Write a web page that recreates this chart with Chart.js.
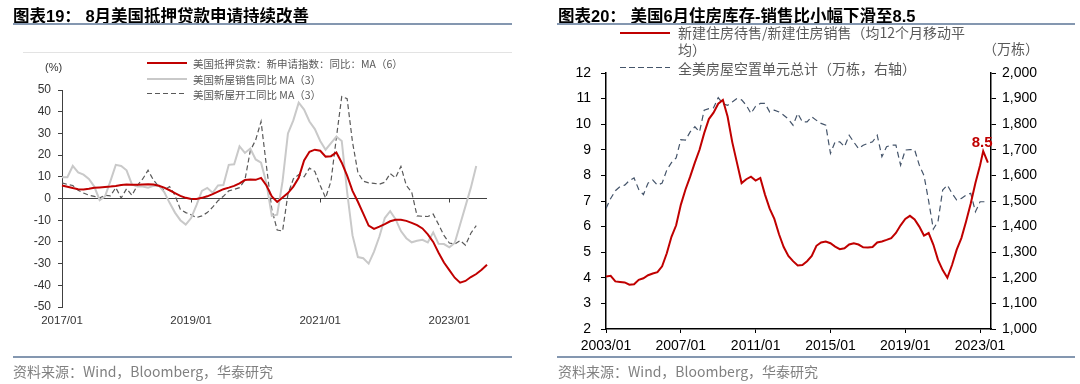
<!DOCTYPE html>
<html>
<head>
<meta charset="utf-8">
<script src="https://cdn.jsdelivr.net/npm/chart.js@4.4.0/dist/chart.umd.min.js"></script>
<style>
  body { margin: 0; width: 1080px; height: 384px; background: #fff; position: relative; overflow: hidden;
         font-family: "Liberation Sans", Arial, "Noto Sans CJK SC", sans-serif; }
  .abs { position: absolute; }
  .title { font-family: "Liberation Sans", "Noto Sans CJK SC", sans-serif; font-weight: bold; font-size: 16.5px; color: #000; white-space: nowrap; }
  .rule { height: 2px; background: #8497b0; }
  .thin { height: 1px; background: #e3e3e3; }
  .src { font-family: "Noto Sans CJK SC", sans-serif; font-size: 14px; color: #808080; white-space: nowrap; }
  .lg { font-family: "Noto Sans CJK SC", sans-serif; color: #595959; white-space: nowrap; }
  .chart { position: absolute; top: 0; width: 540px; height: 384px; }
</style>
</head>
<body>
<div class="chart" style="left:0"><canvas id="c1"></canvas></div>
<div class="chart" style="left:540px"><canvas id="c2"></canvas></div>

<div class="abs title" style="left:13px;top:3px">图表19：&nbsp;8月美国抵押贷款申请持续改善</div>
<div class="abs rule" style="left:13px;top:23px;width:499px"></div>
<div class="abs thin" style="left:23px;top:52px;width:489px"></div>
<div class="abs" style="left:45px;top:61px;font-size:11px;color:#333">(%)</div>
<div class="abs" style="left:147px;top:62px;width:40px;height:2px;background:#c00000"></div>
<div class="abs lg" style="left:193px;top:56px;font-size:10.5px">美国抵押贷款：新申请指数：同比：MA（6）</div>
<div class="abs" style="left:147px;top:78px;width:40px;height:2px;background:#c9c9c9"></div>
<div class="abs lg" style="left:193px;top:72px;font-size:10.5px">美国新屋销售同比 MA（3）</div>
<div class="abs" style="left:147px;top:93px;width:40px;height:1px;background:repeating-linear-gradient(to right,#595959 0 5px,transparent 5px 8px)"></div>
<div class="abs lg" style="left:193px;top:87px;font-size:10.5px">美国新屋开工同比 MA（3）</div>
<div class="abs rule" style="left:13px;top:356px;width:499px"></div>
<div class="abs src" style="left:13px;top:361px">资料来源：Wind，Bloomberg，华泰研究</div>

<div class="abs title" style="left:558px;top:3px">图表20：&nbsp;美国6月住房库存-销售比小幅下滑至8.5</div>
<div class="abs rule" style="left:557px;top:23px;width:518px"></div>
<div class="abs" style="left:620px;top:32px;width:50px;height:2px;background:#c00000"></div>
<div class="abs lg" style="left:678px;top:24px;font-size:14px;line-height:17px">新建住房待售/新建住房销售（均12个月移动平<br>均）</div>
<div class="abs lg" style="left:983px;top:38px;font-size:14px">（万栋）</div>
<div class="abs" style="left:620px;top:67px;width:50px;height:1px;background:repeating-linear-gradient(to right,#44546a 0 6px,transparent 6px 9px)"></div>
<div class="abs lg" style="left:678px;top:58px;font-size:14px">全美房屋空置单元总计（万栋，右轴）</div>
<div class="abs rule" style="left:557px;top:356px;width:518px"></div>
<div class="abs src" style="left:558px;top:361px">资料来源：Wind，Bloomberg，华泰研究</div>

<script>
// ---- 图表19 data (monthly, 2017/01 - 2023/08) ----
var leftMonths = [];
for (var y = 2017; y <= 2023; y++) {
	for (var m = 1; m <= 12; m++) {
		if (y === 2023 && m > 8) break;
		leftMonths.push(y + '/' + (m < 10 ? '0' + m : m));
	}
}
var mortgageYoY = [
	6.0, 5.4, 4.8, 4.3, 4.2, 4.5, 4.9, 5.1, 5.3, 5.5,
	5.8, 6.2, 6.5, 6.3, 6.3, 6.5, 6.6, 6.4, 5.9, 5.0,
	3.8, 2.5, 1.2, 0.3, -0.2, -0.2, 0.3, 1.0, 2.0, 3.2,
	4.3, 5.0, 5.8, 7.0, 8.5, 8.7, 8.6, 9.5, 6.0, 1.0,
	-1.6, 0.5, 2.5, 5.5, 9.5, 17.5, 21.5, 22.5, 22.0, 19.3,
	19.5, 21.2, 16.5, 10.5, 3.5, -1.5, -7.0, -12.5, -14.0, -13.0,
	-11.8, -10.5, -9.8, -9.8, -10.3, -11.2, -12.3, -13.8, -16.5, -20.0,
	-25.0, -29.5, -33.0, -36.5, -38.8, -38.0, -36.2, -34.8, -32.8, -30.5
];
var salesYoY = [
	9.8, 9.8, 15.0, 12.0, 11.0, 9.0, 5.5, -0.8, 1.0, 8.0,
	15.5, 15.0, 13.0, 6.5, 5.5, 5.5, 5.0, 5.8, 6.0, 3.0,
	-2.0, -6.5, -10.0, -12.0, -9.0, -3.0, 3.5, 4.9, 2.6, 6.0,
	6.2, 15.5, 15.8, 24.0, 21.0, 23.0, 18.0, 16.5, 7.0, -8.0,
	-7.5, 8.0, 30.0, 36.0, 44.2, 41.0, 35.5, 32.0, 26.5, 22.5,
	25.5, 28.5, 26.5, 3.0, -17.0, -27.0, -27.5, -30.0, -24.5, -17.5,
	-9.0, -5.8, -9.5, -15.0, -18.3, -20.2, -19.5, -19.0, -20.2, -15.6,
	-20.9, -21.0, -22.5, -20.5, -12.0, -3.5, 5.0, 15.0, null, null
];
var startsYoY = [
	7.2, 6.5, 6.0, 3.8, 2.5, 1.5, 1.0, 0.2, 1.5, 1.2,
	5.0, 0.2, 4.5, 1.5, 6.0, 9.0, 13.0, 8.5, 5.5, 4.0,
	5.5, 1.5, -5.0, -6.5, -7.5, -8.8, -8.0, -6.5, -4.0, -1.0,
	1.0, 3.5, 4.2, 5.0, 8.5, 22.0, 27.0, 35.5, 15.0, -5.0,
	-14.5, -15.0, 2.0, 9.0, 11.0, 10.0, 14.0, 12.5, 6.0, 0.3,
	8.0, 28.0, 47.0, 46.0, 26.0, 12.0, 8.0, 7.2, 7.0, 6.6,
	7.5, 11.5, 9.5, 14.8, 6.0, 3.0, -8.0, -8.2, -8.3, -7.2,
	-12.0, -17.0, -20.5, -21.0, -19.4, -21.5, -16.0, -12.5, null, null
];
var leftTickLabels = ['2017/01', '2019/01', '2021/01', '2023/01'];

// ---- 图表20 data ----
var quarterDates = [
	'2003/01', '2003/04', '2003/07', '2003/10', '2004/01', '2004/04', '2004/07', '2004/10',
	'2005/01', '2005/04', '2005/07', '2005/10', '2006/01', '2006/04', '2006/07', '2006/10',
	'2007/01', '2007/04', '2007/07', '2007/10', '2008/01', '2008/04', '2008/07', '2008/10',
	'2009/01', '2009/04', '2009/07', '2009/10', '2010/01', '2010/04', '2010/07', '2010/10',
	'2011/01', '2011/04', '2011/07', '2011/10', '2012/01', '2012/04', '2012/07', '2012/10',
	'2013/01', '2013/04', '2013/07', '2013/10', '2014/01', '2014/04', '2014/07', '2014/10',
	'2015/01', '2015/04', '2015/07', '2015/10', '2016/01', '2016/04', '2016/07', '2016/10',
	'2017/01', '2017/04', '2017/07', '2017/10', '2018/01', '2018/04', '2018/07', '2018/10',
	'2019/01', '2019/04', '2019/07', '2019/10', '2020/01', '2020/04', '2020/07', '2020/10',
	'2021/01', '2021/04', '2021/07', '2021/10', '2022/01', '2022/04', '2022/07', '2022/10',
	'2023/01', '2023/04'
];
var ratioDates = quarterDates.slice(0, 81).concat(['2023/03', '2023/06']);
var ratioValues = [
	4.05, 4.08, 3.86, 3.84, 3.82, 3.73, 3.75, 3.92,
	3.98, 4.10, 4.17, 4.22, 4.45, 4.96, 5.60, 6.05,
	6.85, 7.45, 7.95, 8.50, 9.00, 9.65, 10.20, 10.45,
	10.80, 10.95, 10.30, 9.30, 8.50, 7.70, 7.85, 7.95,
	7.80, 7.90, 7.25, 6.70, 6.30, 5.70, 5.20, 4.85,
	4.65, 4.48, 4.50, 4.65, 4.85, 5.25, 5.38, 5.42,
	5.35, 5.22, 5.12, 5.15, 5.30, 5.35, 5.30, 5.19,
	5.18, 5.20, 5.38, 5.42, 5.48, 5.55, 5.75, 6.05,
	6.30, 6.42, 6.28, 6.00, 5.65, 5.75, 5.30, 4.70,
	4.30, 4.00, 4.50, 5.10, 5.55, 6.20, 6.90, 7.70,
	8.40, 8.95, 8.50
];
var vacancyDates = quarterDates;
var vacancyValues = [
	1471, 1510, 1540, 1556, 1562, 1580, 1590, 1545,
	1525, 1570, 1582, 1562, 1570, 1621, 1650, 1668,
	1740, 1738, 1770, 1790, 1770, 1855, 1861, 1864,
	1904, 1880, 1874, 1887, 1900, 1895, 1874, 1842,
	1870, 1881, 1881, 1848, 1855, 1848, 1835, 1820,
	1796, 1842, 1809, 1809, 1829, 1815, 1803, 1796,
	1686, 1731, 1731, 1712, 1757, 1730, 1705, 1718,
	1725, 1731, 1757, 1673, 1712, 1718, 1718, 1640,
	1699, 1701, 1700, 1640, 1600, 1500, 1390, 1420,
	1543, 1562, 1530, 1504, 1510, 1523, 1530, 1458,
	1497, 1497
];
var rightTickYears = [2003, 2007, 2011, 2015, 2019, 2023];
var peakText = '8.5';

Chart.defaults.font.family = '"Liberation Sans", Arial, sans-serif';

function monthIndex(d) {
	var p = d.split('/');
	return (parseInt(p[0], 10) - 2003) * 12 + parseInt(p[1], 10) - 1;
}

function toPoints(dates, values) {
	return dates.map(function (d, i) { return { x: monthIndex(d), y: values[i] }; });
}

// small down ticks on the zero line of chart 19
var zeroTicks = {
	id: 'zeroTicks',
	afterDatasetsDraw: function (chart) {
		var ctx = chart.ctx, xs = chart.scales.x, y0 = chart.scales.y.getPixelForValue(0);
		ctx.save();
		ctx.strokeStyle = '#404040';
		ctx.lineWidth = 1;
		leftTickLabels.forEach(function (lab) {
			var px = Math.round(xs.getPixelForValue(leftMonths.indexOf(lab))) + 0.5;
			ctx.beginPath();
			ctx.moveTo(px, y0);
			ctx.lineTo(px, y0 + 4);
			ctx.stroke();
		});
		ctx.restore();
	}
};

var peakLabel = {
	id: 'peakLabel',
	afterDatasetsDraw: function (chart) {
		var pts = chart.getDatasetMeta(0).data;
		var best = null;
		for (var i = pts.length - 4; i < pts.length; i++) {
			if (!best || pts[i].y < best.y) best = pts[i];
		}
		var ctx = chart.ctx;
		ctx.save();
		ctx.font = 'bold 15px "Liberation Sans", Arial, sans-serif';
		ctx.fillStyle = '#c00000';
		ctx.textAlign = 'center';
		ctx.textBaseline = 'bottom';
		ctx.fillText(peakText, best.x - 1, best.y - 1);
		ctx.restore();
	}
};

new Chart(document.getElementById('c1'), {
	type: 'line',
	data: {
		labels: leftMonths,
		datasets: [
			{ label: '美国抵押贷款：新申请指数：同比：MA（6）', data: mortgageYoY, borderColor: '#c00000', borderWidth: 2, pointRadius: 0, tension: 0 },
			{ label: '美国新屋销售同比 MA（3）', data: salesYoY, borderColor: '#c9c9c9', borderWidth: 2, pointRadius: 0, tension: 0 },
			{ label: '美国新屋开工同比 MA（3）', data: startsYoY, borderColor: '#595959', borderWidth: 1.2, borderDash: [5, 3], pointRadius: 0, tension: 0 }
		]
	},
	options: {
		responsive: true, maintainAspectRatio: false, animation: false,
		layout: { padding: { left: 12, right: 53, top: 90, bottom: 47 } },
		plugins: { legend: { display: false }, tooltip: { enabled: false } },
		scales: {
			x: {
				grid: { display: false, drawTicks: false }, border: { display: false },
				ticks: {
					autoSkip: false, maxRotation: 0, padding: 7, color: '#333', font: { size: 11.5 },
					callback: function (v) {
						var lab = this.getLabelForValue(v);
						return leftTickLabels.indexOf(lab) !== -1 ? lab : '';
					}
				},
				afterFit: function (s) { s.height = 30; }
			},
			y: {
				min: -50, max: 50,
				ticks: { stepSize: 10, color: '#333', font: { size: 12 }, padding: 7 },
				grid: {
					color: function (c) { return c.tick && c.tick.value === 0 ? '#404040' : 'rgba(0,0,0,0)'; },
					tickColor: '#404040', tickLength: 4
				},
				border: { color: '#404040' },
				afterFit: function (s) { s.width = 50; }
			}
		}
	},
	plugins: [zeroTicks]
});

var axisFont = { size: 14 };
new Chart(document.getElementById('c2'), {
	type: 'line',
	data: {
		datasets: [
			{ label: '新建住房待售/新建住房销售（均12个月移动平均）', data: toPoints(ratioDates, ratioValues), borderColor: '#c00000', borderWidth: 2, pointRadius: 0, tension: 0, yAxisID: 'y' },
			{ label: '全美房屋空置单元总计（万栋，右轴）', data: toPoints(vacancyDates, vacancyValues), borderColor: '#44546a', borderWidth: 1.2, borderDash: [6, 4], pointRadius: 0, tension: 0, yAxisID: 'y1' }
		]
	},
	options: {
		responsive: true, maintainAspectRatio: false, animation: false,
		layout: { padding: { left: 10, right: 29, top: 73, bottom: 25 } },
		plugins: { legend: { display: false }, tooltip: { enabled: false } },
		scales: {
			x: {
				type: 'linear', min: 0, max: 247,
				afterBuildTicks: function (s) {
					s.ticks = rightTickYears.map(function (yr) { return { value: monthIndex(yr + '/01') }; });
				},
				ticks: {
					autoSkip: false, maxRotation: 0, padding: 5, color: '#000', font: axisFont,
					callback: function (v) { return (2003 + v / 12) + '/01'; }
				},
				grid: { drawOnChartArea: false, color: '#000', tickLength: 4 },
				border: { color: '#000', width: 1.5 },
				afterFit: function (s) { s.height = 30; }
			},
			y: {
				position: 'left', min: 2, max: 12,
				ticks: { stepSize: 1, color: '#000', font: axisFont, padding: 10 },
				grid: { drawOnChartArea: false, color: '#000', tickLength: 5 },
				border: { color: '#000', width: 1.5 },
				afterFit: function (s) { s.width = 56; }
			},
			y1: {
				position: 'right', min: 1000, max: 2000,
				ticks: { stepSize: 100, color: '#000', font: axisFont, padding: 6,
					callback: function (v) { return v.toLocaleString('en-US'); } },
				grid: { drawOnChartArea: false, color: '#000', tickLength: 5 },
				border: { color: '#000', width: 1.5 },
				afterFit: function (s) { s.width = 60; }
			}
		}
	},
	plugins: [peakLabel]
});
</script>
</body>
</html>
